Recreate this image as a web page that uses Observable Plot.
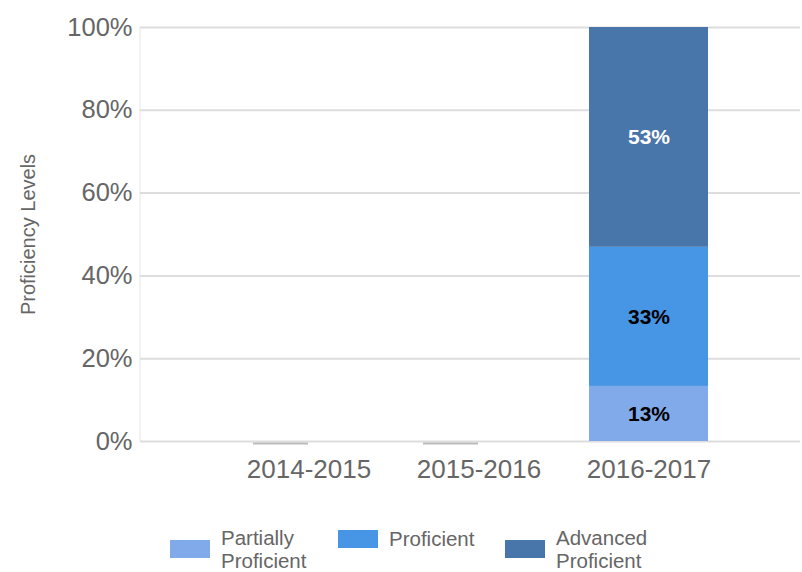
<!DOCTYPE html>
<html>
<head>
<meta charset="utf-8">
<script src="https://cdn.jsdelivr.net/npm/d3@7"></script>
<script src="https://cdn.jsdelivr.net/npm/@observablehq/plot@0.6"></script>
<style>
  body { margin: 0; background: #fff; font-family: "Liberation Sans", Arial, sans-serif; overflow: hidden; }
  #chart { width: 802px; }
  .legend { position: relative; height: 72px; width: 802px; }
  .item { position: absolute; display: flex; align-items: center; font-size: 20.5px; color: #666; line-height: 23px; }
  .sw { width: 40px; height: 18px; margin-right: 11px; }
</style>
</head>
<body>
<div id="chart"></div>
<script>
const years = ["2014-2015", "2015-2016", "2016-2017"];
const levels = ["Partially Proficient", "Proficient", "Advanced Proficient"];
const colors = ["#80aae9", "#4795e5", "#4876aa"];
const partially = [0, 0, 0.133];
const proficient = [0, 0, 0.336];
const advanced = [0, 0, 0.531];
const labels = ["13%", "33%", "53%"];
const labelColors = ["#000", "#000", "#fff"];
const yTicks = [0, 0.2, 0.4, 0.6, 0.8, 1];

const series = [partially, proficient, advanced];
const rows = [];
years.forEach((yr, i) => {
  series.forEach((s, j) => {
    rows.push({year: yr, level: levels[j], value: s[i], label: labels[j], lc: labelColors[j]});
  });
});
const nonzero = rows.filter(d => d.value > 0);
const zeroYears = years.filter((yr, i) => partially[i] + proficient[i] + advanced[i] === 0).map(y => ({year: y}));

// faint left axis line drawn at the frame's left edge
const leftLine = (index, scales, values, dims) => {
  const g = d3.create("svg:g");
  g.append("line")
    .attr("x1", dims.marginLeft).attr("x2", dims.marginLeft)
    .attr("y1", scales.y(1)).attr("y2", scales.y(0))
    .attr("stroke", "#eee").attr("stroke-width", 1.5);
  return g.node();
};

const chart = Plot.plot({
  width: 802,
  height: 500,
  marginLeft: 140,
  marginRight: 2,
  marginTop: 27,
  marginBottom: 59,
  style: {fontFamily: "Liberation Sans, Arial, sans-serif", background: "#fff"},
  x: {domain: years, padding: 0.3, paddingOuter: 0.59, align: 0.54, label: null},
  y: {domain: [0, 1], label: null},
  color: {domain: levels, range: colors},
  marks: [
    leftLine,
    Plot.gridY(yTicks, {stroke: "#ddd", strokeOpacity: 1, strokeWidth: 2}),
    Plot.axisY(yTicks, {tickFormat: d3.format(".0%"), tickSize: 0, tickPadding: 8, fontSize: 25.5, fill: "#666"}),
    Plot.axisX({tickSize: 0, tickPadding: 18, fontSize: 26, fill: "#666"}),
    Plot.text(["Proficiency Levels"], {frameAnchor: "left", textAnchor: "middle", dx: -112, rotate: -90, fontSize: 20, fill: "#666"}),
    Plot.tickY(zeroYears, {x: "year", y: 0, dy: 2, stroke: "#bbb", strokeWidth: 2, insetLeft: 4, insetRight: 60}),
    Plot.barY(rows, Plot.stackY({x: "year", y: "value", fill: "level", order: levels})),
    Plot.text(nonzero, Plot.stackY({x: "year", y: "value", order: levels, text: "label", fill: "lc", fontSize: 21, fontWeight: "bold"}))
  ]
});
document.getElementById("chart").appendChild(chart);
</script>
<div class="legend">
  <div class="item" style="left:170px; top:26px;"><div class="sw" style="background:#80aae9"></div><div>Partially<br>Proficient</div></div>
  <div class="item" style="left:338px; top:27px; align-items:flex-start;"><div class="sw" style="background:#4795e5; margin-top:3px"></div><div>Proficient</div></div>
  <div class="item" style="left:505px; top:26px;"><div class="sw" style="background:#4876aa"></div><div>Advanced<br>Proficient</div></div>
</div>
</body>
</html>
